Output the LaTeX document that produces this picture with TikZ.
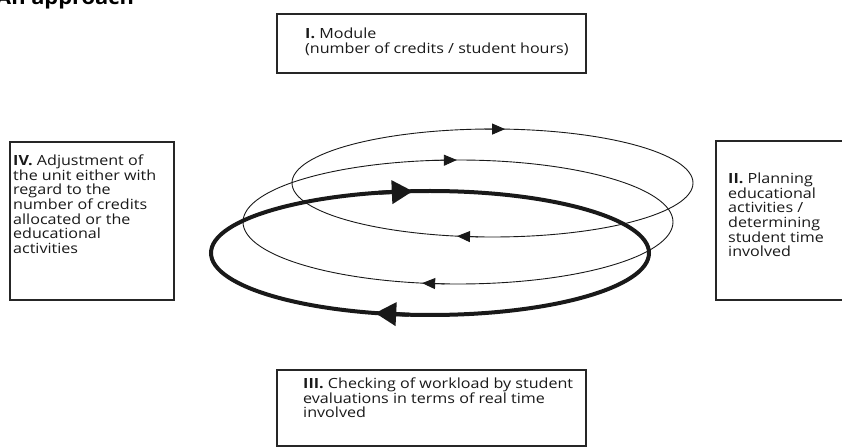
\documentclass[tikz,border=0pt]{standalone}
\usepackage{fontspec}
\setmainfont{Open Sans}[FakeStretch=1.15]
\usetikzlibrary{arrows.meta,calc}
\begin{document}
\begin{tikzpicture}[x=1bp,y=-1bp,
  box/.style={draw=black!85, line width=1.6bp, inner sep=0pt},
  lbl/.style={inner sep=0pt, anchor=north west, align=left,
    font=\fontsize{14bp}{14.7bp}\selectfont, text=black!90},
  thinloop/.style={line width=0.9bp, black!90},
  boldloop/.style={line width=4bp, black!90},
  thinhead/.style={line width=0.9bp, black!90, -{Triangle[length=13bp,width=11bp]}},
  boldhead/.style={line width=4bp, black!90, -{Triangle[length=21bp,width=23bp]}},
  ]
\useasboundingbox (0,0) rectangle (842,448);
% title
\node[anchor=base west, inner sep=0pt, font=\fontsize{19bp}{21bp}\selectfont\bfseries] (title) at (-4,5) {An approach};
% boxes
\node[box, minimum width=309bp, minimum height=59bp] (b1) at (431.5,43.5) {};
\node[box, minimum width=134bp, minimum height=159bp] (b2) at (783,220.5) {};
\node[box, minimum width=309bp, minimum height=76bp] (b3) at (431.5,408) {};
\node[box, minimum width=164bp, minimum height=158bp] (b4) at (92,221) {};
% texts
\node[lbl] (t1) at (305,27.5) {\textbf{I.} Module\\(number of credits / student hours)};
\node[lbl] (t2) at (728,172.5) {\textbf{II.} Planning\\educational\\activities /\\determining\\student time\\involved};
\node[lbl] (t3) at (303,377.5) {\textbf{III.} Checking of workload by student\\evaluations in terms of real time\\involved};
\node[lbl] (t4) at (13,154.5) {\textbf{IV.} Adjustment of\\the unit either with\\regard to the\\number of credits\\allocated or the\\educational\\activities};
% loops
\coordinate (c1) at (492.5,183);
\coordinate (c2) at (458,222);
\coordinate (c3) at (430,253);
\draw[thinloop] (c1) ellipse [x radius=200.5, y radius=54];
\draw[thinloop] (c2) ellipse [x radius=215, y radius=62];
\draw[boldloop] (c3) ellipse [x radius=219, y radius=62];
% arrowheads (clockwise travel)
\draw[thinhead] ($(c1)+(267.6:200.5 and 54)$) -- ($(c1)+(273.6:200.5 and 54)$);
\draw[thinhead] ($(c1)+(94.2:200.5 and 54)$) -- ($(c1)+(100.2:200.5 and 54)$);
\draw[thinhead] ($(c2)+(263.7:215 and 62)$) -- ($(c2)+(269.7:215 and 62)$);
\draw[thinhead] ($(c2)+(93.6:215 and 62)$) -- ($(c2)+(99.6:215 and 62)$);
\draw[boldhead] ($(c3)+(256.5:219 and 62)$) -- ($(c3)+(265.5:219 and 62)$);
\draw[boldhead] ($(c3)+(95.5:219 and 62)$) -- ($(c3)+(104.5:219 and 62)$);
\end{tikzpicture}
\end{document}
